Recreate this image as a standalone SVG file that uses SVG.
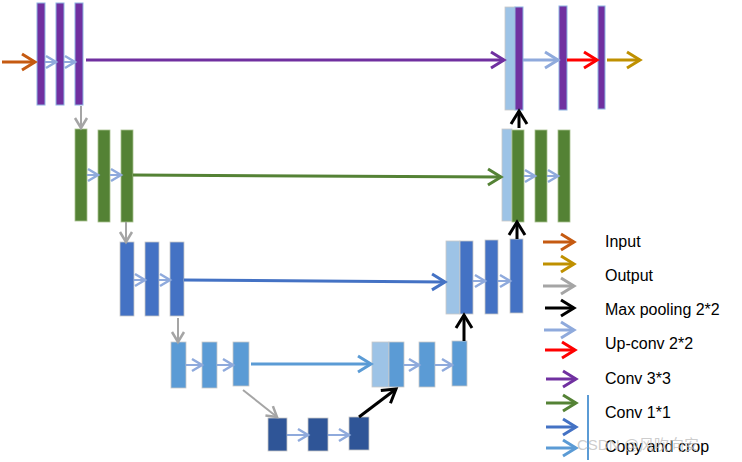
<svg xmlns="http://www.w3.org/2000/svg" width="742" height="462" viewBox="0 0 742 462">
<defs>
<marker id="a" viewBox="0 0 12 12" refX="11" refY="6" markerWidth="12" markerHeight="12" markerUnits="userSpaceOnUse" orient="auto" overflow="visible">
<path d="M1,0 L11,6 L1,12" fill="none" stroke="context-stroke" stroke-width="2.5"/>
</marker>
<marker id="b" viewBox="0 0 16 16" refX="15" refY="8" markerWidth="16" markerHeight="16" markerUnits="userSpaceOnUse" orient="auto" overflow="visible">
<path d="M2,0 L15,8 L2,16" fill="none" stroke="context-stroke" stroke-width="3"/>
</marker>
</defs>
<style>
.p{fill:#7030A0;stroke:#8DB4E2;stroke-width:1}
.g{fill:#548235;stroke:#A9C08F;stroke-width:0.8}
.c{fill:#9DC3E6;stroke:#C9C9C9;stroke-width:0.8}
.b{fill:#4472C4;stroke:#C9C9C9;stroke-width:0.8}
.l{fill:#5B9BD5;stroke:#C9C9C9;stroke-width:0.8}
.d{fill:#2F5597;stroke:#C9C9C9;stroke-width:0.8}
.ar{fill:none;stroke-width:2;marker-end:url(#a)}
.al{fill:none;stroke-width:3;marker-end:url(#b)}
.t{font-family:"Liberation Sans",Arial,sans-serif;font-size:16px;fill:#000}
</style>
<g id="level1">
<rect class="p" x="37" y="3" width="8" height="102"/>
<rect class="p" x="56" y="3" width="8" height="102"/>
<rect class="p" x="75" y="3" width="8" height="102"/>
<rect class="c" x="505" y="7" width="10" height="103" stroke="none"/>
<rect class="p" x="515" y="7" width="8" height="103"/>
<rect class="p" x="559" y="6" width="8" height="104"/>
<rect class="p" x="598" y="6" width="7" height="103"/>
</g>
<g id="level2">
<rect class="g" x="75" y="129" width="12" height="92"/>
<rect class="g" x="98" y="130" width="12" height="92"/>
<rect class="g" x="121" y="130" width="12" height="92"/>
<rect class="c" x="502" y="129" width="10" height="92"/>
<rect class="g" x="512" y="130" width="12" height="92"/>
<rect class="g" x="535" y="130" width="12" height="92"/>
<rect class="g" x="558" y="130" width="12" height="92"/>
</g>
<g id="level3">
<rect class="b" x="120" y="242" width="14" height="74"/>
<rect class="b" x="145" y="242" width="14" height="74"/>
<rect class="b" x="170" y="242" width="14" height="74"/>
<rect class="c" x="446" y="241" width="14" height="73"/>
<rect class="b" x="460" y="241" width="13" height="73"/>
<rect class="b" x="485" y="240" width="13" height="74"/>
<rect class="b" x="510" y="239" width="13" height="74"/>
</g>
<g id="level4">
<rect class="l" x="171" y="342" width="15" height="46"/>
<rect class="l" x="202" y="342" width="15" height="46"/>
<rect class="l" x="233" y="342" width="16" height="44"/>
<rect class="c" x="372" y="342" width="17" height="45"/>
<rect class="l" x="389" y="342" width="15" height="45"/>
<rect class="l" x="419" y="342" width="16" height="45"/>
<rect class="l" x="452" y="341" width="15" height="45"/>
</g>
<g id="level5">
<rect class="d" x="268" y="418" width="19" height="33"/>
<rect class="d" x="308" y="418" width="20" height="33"/>
<rect class="d" x="349" y="417" width="20" height="33"/>
</g>
<g id="connectors">
<line class="al" x1="2" y1="62" x2="35" y2="62" stroke="#C55A11"/>
<line class="ar" x1="45" y1="62" x2="56" y2="62" stroke="#8FAADC"/>
<line class="ar" x1="64" y1="62" x2="75" y2="62" stroke="#8FAADC"/>
<line class="al" x1="86" y1="60" x2="504" y2="60" stroke="#7030A0"/>
<line class="al" x1="523" y1="60" x2="558" y2="60" stroke="#8FAADC" stroke-width="2.5"/>
<line class="al" x1="567" y1="60" x2="597" y2="60" stroke="#FF0000" stroke-width="2.5"/>
<line class="al" x1="607" y1="60" x2="640" y2="60" stroke="#BF9000"/>
<line class="ar" x1="81" y1="106" x2="81" y2="128" stroke="#A5A5A5"/>
<line class="ar" x1="87" y1="175" x2="98" y2="175" stroke="#8FAADC"/>
<line class="ar" x1="110" y1="175" x2="121" y2="175" stroke="#8FAADC"/>
<line class="al" x1="133" y1="175" x2="501" y2="177" stroke="#548235"/>
<line class="ar" x1="524" y1="176" x2="535" y2="176" stroke="#8FAADC"/>
<line class="ar" x1="547" y1="176" x2="558" y2="176" stroke="#8FAADC"/>
<line class="al" x1="519" y1="128" x2="519" y2="111" stroke="#000"/>
<line class="ar" x1="126" y1="222" x2="126" y2="242" stroke="#A5A5A5"/>
<line class="ar" x1="134" y1="280" x2="145" y2="280" stroke="#8FAADC"/>
<line class="ar" x1="159" y1="280" x2="170" y2="280" stroke="#8FAADC"/>
<line class="al" x1="184" y1="280" x2="445" y2="282" stroke="#4472C4"/>
<line class="ar" x1="473" y1="281" x2="485" y2="281" stroke="#8FAADC"/>
<line class="ar" x1="498" y1="281" x2="510" y2="281" stroke="#8FAADC"/>
<line class="al" x1="517" y1="239" x2="517" y2="222" stroke="#000"/>
<line class="ar" x1="178" y1="318" x2="178" y2="342" stroke="#A5A5A5"/>
<line class="ar" x1="186" y1="365" x2="202" y2="365" stroke="#8FAADC"/>
<line class="ar" x1="217" y1="365" x2="233" y2="365" stroke="#8FAADC"/>
<line class="al" x1="251" y1="364" x2="371" y2="364" stroke="#5B9BD5"/>
<line class="ar" x1="404" y1="365" x2="419" y2="365" stroke="#8FAADC"/>
<line class="ar" x1="435" y1="365" x2="452" y2="365" stroke="#8FAADC"/>
<line class="al" x1="464" y1="341" x2="464" y2="315" stroke="#000"/>
<line class="ar" x1="243" y1="390" x2="277" y2="417" stroke="#A5A5A5"/>
<line class="ar" x1="287" y1="435" x2="308" y2="435" stroke="#8FAADC"/>
<line class="ar" x1="328" y1="435" x2="349" y2="435" stroke="#8FAADC"/>
<line class="al" x1="359" y1="417" x2="396" y2="389" stroke="#000"/>
</g>
<g id="legend">
<line class="al" x1="543" y1="242" x2="574" y2="242" stroke="#C55A11"/>
<line class="al" x1="543" y1="264" x2="574" y2="264" stroke="#BF9000"/>
<line class="al" x1="543" y1="286" x2="574" y2="286" stroke="#A5A5A5"/>
<line class="al" x1="545" y1="308" x2="574" y2="308" stroke="#000"/>
<line class="al" x1="544" y1="330" x2="574" y2="330" stroke="#8FAADC"/>
<line class="al" x1="545" y1="350" x2="575" y2="350" stroke="#FF0000"/>
<line class="al" x1="546" y1="379" x2="576" y2="379" stroke="#7030A0"/>
<line class="al" x1="546" y1="403" x2="576" y2="403" stroke="#548235"/>
<line class="al" x1="546" y1="427" x2="576" y2="427" stroke="#4472C4"/>
<line class="al" x1="546" y1="448" x2="576" y2="448" stroke="#5B9BD5"/>
<line x1="588" y1="395" x2="588" y2="460" stroke="#5B9BD5" stroke-width="2"/>
<text class="t" x="605" y="247">Input</text>
<text class="t" x="605" y="281">Output</text>
<text class="t" x="605" y="315">Max pooling 2*2</text>
<text class="t" x="605" y="349">Up-conv 2*2</text>
<text class="t" x="605" y="384">Conv 3*3</text>
<text class="t" x="605" y="418">Conv 1*1</text>
<text class="t" x="605" y="452">Copy and crop</text>
<text x="577" y="450" font-family="'Liberation Sans','Noto Sans CJK SC',sans-serif" font-size="15" fill="#BFBFBF" fill-opacity="0.8">CSDN @风吹向安</text>
</g>
</svg>
